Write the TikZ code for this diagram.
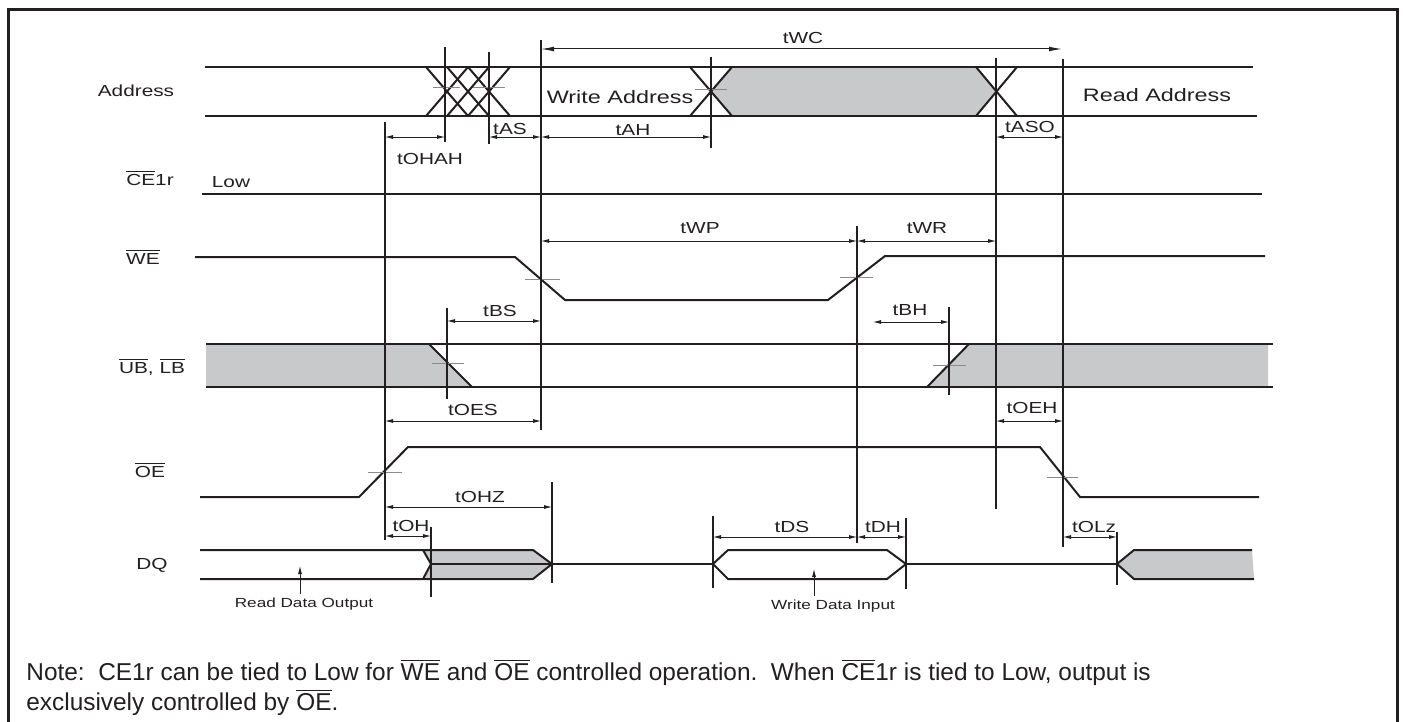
\documentclass[tikz,border=0pt]{standalone}
\usepackage{fontspec}
\setmainfont{Liberation Sans}[FakeStretch=1.3]
\newfontfamily\notefont{Liberation Sans}
\usetikzlibrary{arrows.meta}
\definecolor{dk}{HTML}{231F20}
\definecolor{gf}{HTML}{C8C9CB}
\definecolor{tk}{HTML}{8A8A8A}
\newcommand\ovl[1]{$\overline{\mbox{#1}}$}
\tikzset{
  sig/.style={draw=dk, line width=1pt, line join=miter},
  vl/.style={draw=dk, line width=0.7pt},
  tick/.style={draw=tk, line width=0.5pt},
  dim/.style={draw=dk, line width=0.4pt, {Latex[length=4pt,width=2pt]}-{Latex[length=4pt,width=2pt]}},
  bigdim/.style={draw=dk, line width=0.5pt, {Latex[length=6.5pt,width=2.4pt]}-{Latex[length=6.5pt,width=2.4pt]}},
  lab/.style={inner sep=0pt, text=dk, font=\fontsize{8}{9.6}\selectfont},
  big/.style={inner sep=0pt, text=dk, font=\fontsize{9}{10.8}\selectfont},
  small/.style={inner sep=0pt, text=dk, font=\fontsize{6.6}{8}\selectfont},
  note/.style={inner sep=0pt, text=dk, anchor=base west, font=\notefont\fontsize{12.2}{14}\selectfont},
}
\begin{document}
\begin{tikzpicture}[x=0.5pt, y=-0.5pt]
\useasboundingbox (0,0) rectangle (1403,722);
% frame
\draw[dk, line width=1.5pt] (8,740) -- (8,10) -- (1397,10) -- (1397,740);

% ---------- signal labels
\node[lab] (lAddr) at (136,91) {Address};
\node[lab] (lCE) at (150,178) {\ovl{CE}1r};
\node[lab] (lLow) at (231,182) {Low};
\node[lab] (lWE) at (143,257) {\ovl{WE}};
\node[lab] (lUB) at (152,367) {\ovl{UB}, \ovl{LB}};
\node[lab] (lOE) at (150,470) {\ovl{OE}};
\node[lab] (lDQ) at (152,565) {DQ};

% ---------- Address
\fill[gf] (711,91) -- (732,67) -- (976,67) -- (996,91) -- (976,116) -- (732,116) -- cycle;
\draw[sig] (205,67) -- (1253,67);
\draw[sig] (205,116) -- (1257,116);
\foreach \c in {447,468,489}{
  \draw[sig] (\c-21,67) -- (\c+21,116);
  \draw[sig] (\c-21,116) -- (\c+21,67);
}
\draw[sig] (690,67) -- (732,116);
\draw[sig] (690,116) -- (732,67);
\draw[sig] (976,67) -- (1017,116);
\draw[sig] (976,116) -- (1017,67);
\draw[tick] (433,88) -- (460,88);
\draw[tick] (473,88) -- (505,88);
\draw[tick] (695,90) -- (727,90);
\node[big] (wa) at (620,97) {Write Address};
\node[big] (ra) at (1157,95) {Read Address};

% ---------- CE1r
\draw[sig] (202,194) -- (1262,194);

% ---------- WE
\draw[sig] (195,257) -- (515,257) -- (565,300) -- (828,300) -- (885,256) -- (1265,256);
\draw[tick] (525,279) -- (560,279);
\draw[tick] (840,277) -- (873,277);

% ---------- UB, LB
\fill[gf] (206,344) -- (429,344) -- (472,387) -- (206,387) -- cycle;
\fill[gf] (927,387) -- (969,344) -- (1268,344) -- (1268,387) -- cycle;
\draw[sig] (206,344) -- (1273,344);
\draw[sig] (206,387) -- (1273,387);
\draw[sig] (429,344) -- (472,387);
\draw[sig] (927,387) -- (969,344);
\draw[tick] (432,363) -- (464,363);
\draw[tick] (933,365) -- (966,365);

% ---------- OE
\draw[sig] (200,497) -- (359,497) -- (408,447) -- (1040,447) -- (1080,497) -- (1259,497);
\draw[tick] (368,472) -- (402,472);
\draw[tick] (1047,477) -- (1078,477);

% ---------- DQ
\fill[gf] (423,550) -- (533,550) -- (552,564) -- (533,579) -- (423,579) -- (431,564) -- cycle;
\draw[sig] (200,550) -- (533,550) -- (552,564) -- (533,579) -- (200,579);
\draw[sig] (423,550) -- (431,564) -- (423,579);
\draw[sig] (431,564) -- (713,564);
\draw[sig, fill=white] (713,564) -- (728,550) -- (887,550) -- (906,564) -- (887,579) -- (728,579) -- cycle;
\draw[sig] (906,564) -- (1117,564);
\fill[gf] (1117,564) -- (1134,550) -- (1252,550) -- (1254,579) -- (1134,579) -- cycle;
\draw[sig] (1252,550) -- (1134,550) -- (1117,564) -- (1134,579) -- (1254,579);
\draw[dk, line width=0.4pt, -{Latex[length=4pt,width=2pt]}] (300,594) -- (300,566);
\draw[dk, line width=0.4pt, -{Latex[length=4pt,width=2pt]}] (814,596) -- (814,569);
\node[small] (rdo) at (304,604) {Read Data Output};
\node[small] (wdi) at (833,606) {Write Data Input};

% ---------- timing verticals
\draw[vl] (385,122) -- (385,540);
\draw[vl] (445,47) -- (445,142);
\draw[vl] (489,52) -- (489,144);
\draw[vl] (541,40) -- (541,430);
\draw[vl] (711,57) -- (711,148);
\draw[vl] (996,58) -- (996,509);
\draw[vl] (1063,59) -- (1063,547);
\draw[vl] (857,226) -- (857,543);
\draw[vl] (447,308) -- (447,399);
\draw[vl] (949,307) -- (949,395);
\draw[vl] (552,482) -- (552,583);
\draw[vl] (431,527) -- (431,597);
\draw[vl] (713,516) -- (713,588);
\draw[vl] (906,518) -- (906,589);
\draw[vl] (1117,532) -- (1117,585);

% ---------- dimensions
\draw[bigdim] (541,49) -- (1062,49);
\node[lab] at (803,38) {tWC};
\draw[dim] (385,137) -- (445,137);
\node[lab] at (430,159) {tOHAH};
\draw[dim] (489,137) -- (541,137);
\node[lab] at (510,129) {tAS};
\draw[dim] (541,137) -- (711,137);
\node[lab] at (633,130) {tAH};
\draw[dim] (996,137) -- (1063,137);
\node[lab] at (1030,127) {tASO};
\draw[dim] (541,241) -- (857,241);
\node[lab] at (700,228) {tWP};
\draw[dim] (857,241) -- (996,241);
\node[lab] at (927,228) {tWR};
\draw[dim] (447,321) -- (541,321);
\node[lab] at (500,311) {tBS};
\draw[dim] (873,322) -- (949,322);
\node[lab] at (910,310) {tBH};
\draw[dim] (385,421) -- (541,421);
\node[lab] at (473,410) {tOES};
\draw[dim] (996,421) -- (1063,421);
\node[lab] at (1032,408) {tOEH};
\draw[dim] (385,507) -- (552,507);
\node[lab] at (480,497) {tOHZ};
\draw[dim] (385,536) -- (431,536);
\node[lab] at (411,526) {tOH};
\draw[dim] (713,537) -- (857,537);
\node[lab] at (792,527) {tDS};
\draw[dim] (857,537) -- (906,537);
\node[lab] at (883,527) {tDH};
\draw[dim] (1063,537) -- (1117,537);
\node[lab] at (1094,527) {tOLz};

% ---------- note
\node[note] (n1) at (26,680) {Note:\ \ CE1r can be tied to Low for \ovl{WE} and \ovl{OE} controlled operation.\ \ When \ovl{CE}1r is tied to Low, output is};
\node[note] (n2) at (26,710) {exclusively controlled by \ovl{OE}.};
\end{tikzpicture}
\end{document}
